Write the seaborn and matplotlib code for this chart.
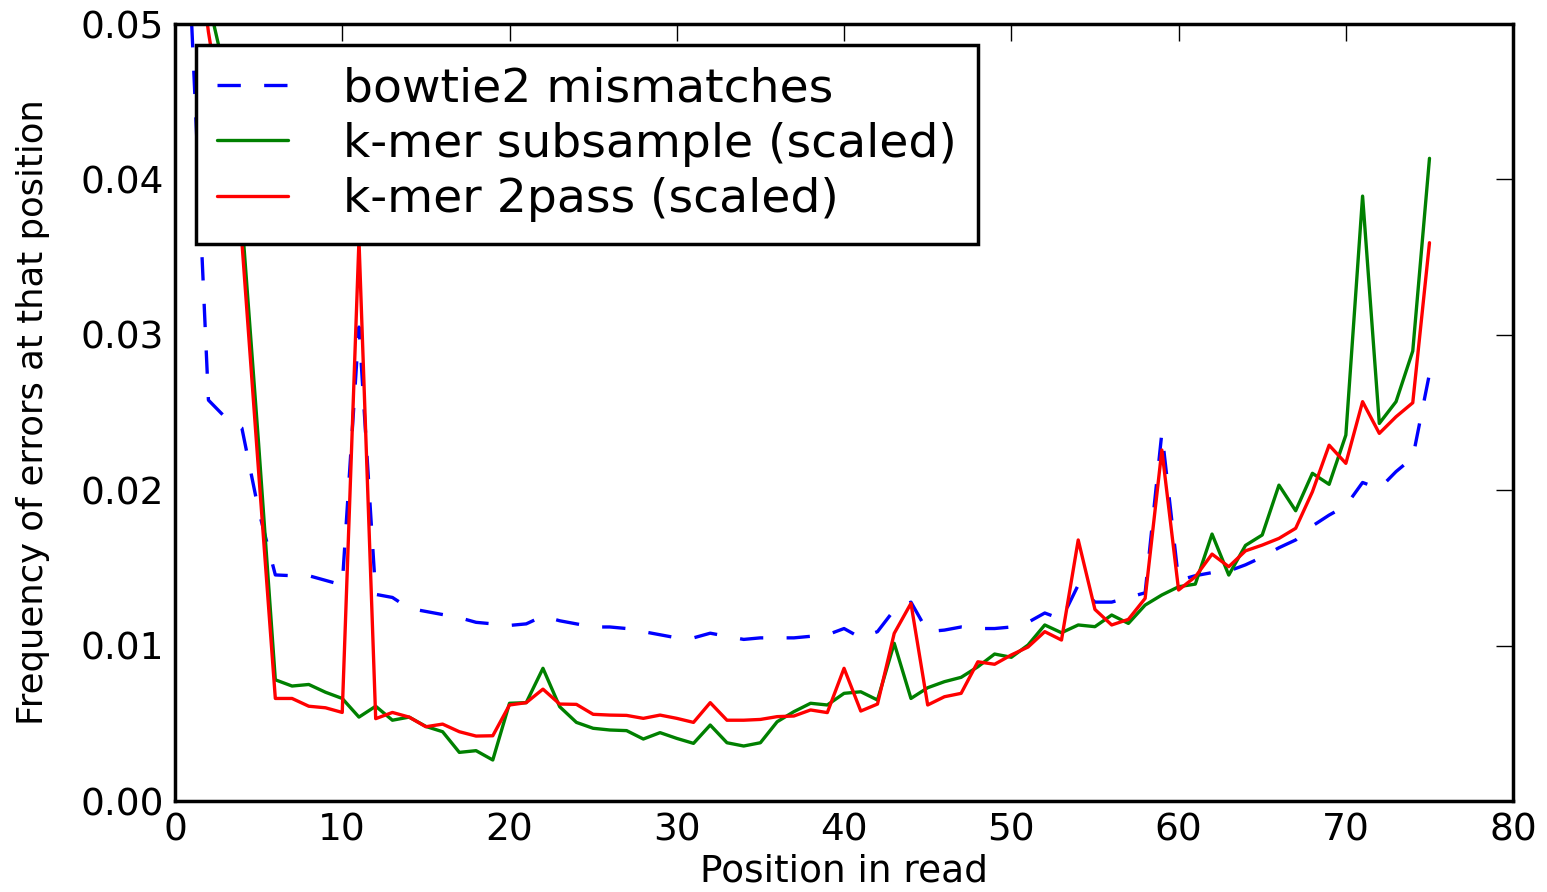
import numpy as np
import matplotlib
matplotlib.use("Agg")
import matplotlib.pyplot as plt
import seaborn as sns

# -------------------------------
# style: old matplotlib "classic" look
# -------------------------------
sns.set_style("white")
plt.rcParams["font.family"] = ["DejaVu Sans"]
plt.rcParams["text.color"] = "black"
plt.rcParams["axes.labelcolor"] = "black"
plt.rcParams["xtick.color"] = "black"
plt.rcParams["ytick.color"] = "black"
plt.rcParams["xtick.direction"] = "in"
plt.rcParams["ytick.direction"] = "in"

# -------------------------------
# data
# -------------------------------
position = np.arange(1, 76)

bowtie2 = [
    0.0500, 0.0258, 0.0247, 0.0240, 0.0187, 0.01455, 0.0145, 0.0145, 0.0142, 0.0139,
    0.0305, 0.0133, 0.0131, 0.0124, 0.0122, 0.0120, 0.0118, 0.0115, 0.0114, 0.0113,
    0.0114, 0.0119, 0.0116, 0.0114, 0.0112, 0.0112, 0.0111, 0.0109, 0.0107, 0.0105,
    0.0105, 0.0108, 0.0106, 0.0104, 0.0105, 0.0105, 0.0105, 0.0106, 0.0107, 0.0111,
    0.0105, 0.0109, 0.0123, 0.0128, 0.0109, 0.0110, 0.0112, 0.0111, 0.0111, 0.0112,
    0.0115, 0.0121, 0.0117, 0.0139, 0.0128, 0.0128, 0.0131, 0.0134, 0.0237, 0.0142,
    0.0145, 0.0147, 0.0148, 0.0152, 0.0157, 0.0163, 0.0168, 0.0177, 0.0184, 0.0190,
    0.0205, 0.0201, 0.0212, 0.0221, 0.0275,
]

kmer_subsample = [
    0.0620, 0.0515, 0.0468, 0.0375, 0.0230, 0.0078, 0.0074, 0.0075, 0.0070, 0.0066,
    0.0054, 0.0061, 0.0052, 0.0054, 0.0048, 0.00446, 0.00313, 0.00324, 0.00264, 0.00629,
    0.00633, 0.00854, 0.00607, 0.00506, 0.00468, 0.00457, 0.00453, 0.00399, 0.0044, 0.00403,
    0.00371, 0.00489, 0.00375, 0.00354, 0.00375, 0.0051, 0.00575, 0.00629, 0.00618, 0.00693,
    0.00703, 0.0065, 0.01015, 0.0066, 0.00729, 0.00768, 0.00796, 0.00864, 0.00946, 0.00925,
    0.01004, 0.01133, 0.01083, 0.01133, 0.01122, 0.01197, 0.01143, 0.01261, 0.01326, 0.01379,
    0.01396, 0.01718, 0.01454, 0.01645, 0.01712, 0.02033, 0.01868, 0.02109, 0.02038, 0.02355,
    0.03893, 0.0243, 0.0257, 0.02896, 0.04136,
]

kmer_2pass = [
    0.0580, 0.0495, 0.0428, 0.0360, 0.0212, 0.0066, 0.0066, 0.0061, 0.0060, 0.0057,
    0.0361, 0.0053, 0.0057, 0.0054, 0.00478, 0.00495, 0.00446, 0.00418, 0.0042, 0.00618,
    0.00633, 0.0072, 0.00624, 0.00622, 0.00558, 0.00553, 0.00551, 0.00532, 0.00553, 0.00532,
    0.00506, 0.00633, 0.0052, 0.0052, 0.00525, 0.00543, 0.00547, 0.00586, 0.00569, 0.00854,
    0.00579, 0.00624, 0.01079, 0.01272, 0.00618, 0.00671, 0.00693, 0.00896, 0.0088, 0.0094,
    0.00991, 0.0109, 0.01036, 0.0168, 0.01233, 0.01133, 0.01169, 0.01304, 0.02259, 0.01358,
    0.01443, 0.01589, 0.01508, 0.0161, 0.01647, 0.0169, 0.01755, 0.0199, 0.0229, 0.02173,
    0.0257, 0.02366, 0.02473, 0.02563, 0.03593,
]

labels = ["bowtie2 mismatches", "k-mer subsample (scaled)", "k-mer 2pass (scaled)"]
xticks = [0, 10, 20, 30, 40, 50, 60, 70, 80]
yticks = [0.00, 0.01, 0.02, 0.03, 0.04, 0.05]

# -------------------------------
# figure
# -------------------------------
fig = plt.figure(figsize=(15.47, 8.92), dpi=100)
ax = fig.add_axes([0.1131, 0.102, 0.865, 0.871])

sns.lineplot(x=position, y=bowtie2, color="#0000ff", linewidth=2.4,
             linestyle=(0, (7, 7)), label=labels[0], ax=ax)
sns.lineplot(x=position, y=kmer_subsample, color="#008000", linewidth=2.4,
             label=labels[1], ax=ax)
sns.lineplot(x=position, y=kmer_2pass, color="#ff0000", linewidth=2.4,
             label=labels[2], ax=ax)

ax.set_xlim(0, 80)
ax.set_ylim(0, 0.05)
ax.set_xticks(xticks)
ax.set_yticks(yticks)
ax.set_yticklabels([f"{v:.2f}" for v in yticks])

ax.tick_params(axis="both", which="major", direction="in", length=12, width=1,
               labelsize=27, top=True, right=True, pad=8, colors="black")
for s in ax.spines.values():
    s.set_linewidth(2.5)
    s.set_color("black")

ax.set_xlabel("Position in read", fontsize=27, labelpad=4)
ax.set_ylabel("Frequency of errors at that position", fontsize=25.5, labelpad=22)

leg = ax.legend(loc="upper left", fontsize=34, frameon=True, fancybox=False,
                framealpha=1, edgecolor="black", handlelength=1.5,
                handletextpad=1.15, labelspacing=0.22, borderpad=0.45,
                borderaxespad=0.45)
leg.get_frame().set_linewidth(2.5)
for t in leg.get_texts():
    t.set_color("black")

fig.savefig("out.png", dpi=100)
